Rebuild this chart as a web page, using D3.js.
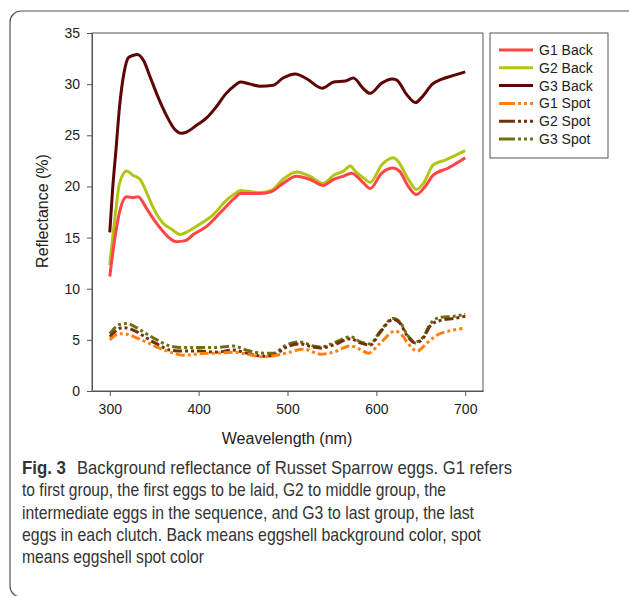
<!DOCTYPE html>
<html>
<head>
<meta charset="utf-8">
<style>
  body { margin: 0; background: #fff; }
  svg { display: block; }
  .axis path, .axis line { stroke: #555; }
  .axis text { font-family: "Liberation Sans", Arial, sans-serif; font-size: 14px; fill: #222; }
  .caption { font-family: "Liberation Sans Narrow", "Liberation Sans", Arial, sans-serif; font-size: 19px; fill: #333; }
</style>
</head>
<body>
<script src="https://d3js.org/d3.v7.min.js"></script>
<script>
// wavelengths (nm) and reflectance (%)
var g1BackWl = [300, 306, 311, 319, 326, 332, 341, 350, 360, 368, 375, 385, 394, 409, 424, 441, 447, 458, 469, 482, 495, 510, 525, 540, 552, 563, 572, 586, 593, 606, 619, 626, 636, 645, 655, 664, 681, 700];
var g1BackVal = [11.2, 15.1, 17.5, 19.0, 18.9, 19.0, 17.9, 16.7, 15.6, 14.9, 14.6, 14.7, 15.3, 16.1, 17.4, 18.9, 19.3, 19.3, 19.3, 19.5, 20.3, 21.0, 20.7, 20.1, 20.7, 21.0, 21.3, 20.3, 19.8, 21.3, 21.8, 21.5, 20.0, 19.2, 20.0, 21.1, 21.8, 22.8];

var g2BackWl = [300, 306, 311, 319, 326, 334, 341, 349, 360, 370, 379, 388, 401, 416, 432, 441, 447, 458, 469, 482, 495, 510, 525, 540, 552, 563, 571, 576, 586, 593, 606, 619, 624, 636, 645, 653, 664, 678, 700];
var g2BackVal = [12.3, 17.1, 20.3, 21.5, 21.1, 20.7, 19.5, 17.9, 16.4, 15.8, 15.3, 15.6, 16.3, 17.2, 18.7, 19.3, 19.6, 19.5, 19.4, 19.6, 20.7, 21.4, 21.0, 20.3, 21.1, 21.5, 22.0, 21.5, 20.8, 20.4, 22.1, 22.8, 22.5, 20.7, 19.7, 20.3, 22.1, 22.6, 23.5];

var g3BackWl = [300, 303, 307, 311, 316, 321, 326, 331, 338, 345, 354, 364, 373, 381, 386, 398, 409, 420, 430, 441, 447, 458, 469, 484, 495, 509, 522, 539, 552, 565, 574, 586, 593, 606, 618, 623, 634, 644, 651, 663, 674, 689, 700];
var g3BackVal = [15.5, 19.5, 23.6, 27.8, 31.1, 32.6, 32.8, 32.9, 32.3, 30.8, 28.8, 26.9, 25.6, 25.2, 25.3, 26.0, 26.7, 27.8, 29.0, 29.9, 30.2, 30.0, 29.8, 29.9, 30.6, 31.0, 30.5, 29.6, 30.2, 30.3, 30.6, 29.5, 29.1, 30.1, 30.5, 30.4, 29.0, 28.2, 28.7, 30.0, 30.5, 30.9, 31.2];

var g1SpotWl = [300, 311, 319, 330, 341, 353, 368, 383, 401, 420, 439, 454, 473, 488, 503, 518, 537, 552, 571, 582, 591, 604, 621, 629, 636, 646, 657, 668, 683, 697];
var g1SpotVal = [5.0, 5.6, 5.55, 5.2, 4.8, 4.3, 3.8, 3.5, 3.65, 3.7, 3.8, 3.6, 3.35, 3.5, 3.8, 4.1, 3.6, 3.8, 4.4, 4.05, 3.7, 4.65, 5.85, 5.45, 4.6, 3.9, 4.7, 5.45, 5.9, 6.1];

var g2SpotWl = [300, 315, 330, 341, 353, 368, 383, 401, 420, 439, 454, 473, 484, 499, 514, 529, 537, 552, 571, 582, 593, 604, 619, 627, 634, 644, 653, 661, 672, 687, 700];
var g2SpotVal = [5.3, 6.2, 5.8, 5.2, 4.6, 4.0, 3.9, 3.9, 3.8, 4.0, 3.7, 3.4, 3.5, 4.3, 4.6, 4.3, 4.2, 4.5, 5.1, 4.7, 4.5, 5.7, 7.0, 6.6, 5.5, 4.7, 5.2, 6.4, 6.9, 7.1, 7.3];

var g3SpotWl = [300, 311, 319, 330, 341, 353, 368, 383, 401, 420, 439, 454, 473, 484, 499, 514, 529, 537, 552, 571, 582, 593, 604, 619, 627, 634, 644, 653, 661, 672, 687, 700];
var g3SpotVal = [5.6, 6.5, 6.6, 6.2, 5.6, 5.0, 4.4, 4.25, 4.25, 4.25, 4.4, 4.0, 3.7, 3.7, 4.5, 4.8, 4.4, 4.3, 4.7, 5.3, 4.8, 4.6, 5.8, 7.1, 6.7, 5.6, 4.8, 5.3, 6.6, 7.2, 7.3, 7.5];

var seriesNames = ["G1 Back", "G2 Back", "G3 Back", "G1 Spot", "G2 Spot", "G3 Spot"];
var xTicks = [300, 400, 500, 600, 700];
var yTicks = [0, 5, 10, 15, 20, 25, 30, 35];

var captionLabel = "Fig. 3";
var captionLines = [
  "Background reflectance of Russet Sparrow eggs. G1 refers",
  "to first group, the first eggs to be laid, G2 to middle group, the",
  "intermediate eggs in the sequence, and G3 to last group, the last",
  "eggs in each clutch. Back means eggshell background color, spot",
  "means eggshell spot color"
];

var series = [
  {name: seriesNames[0], wl: g1BackWl, val: g1BackVal, color: "#ff4545", dash: null},
  {name: seriesNames[1], wl: g2BackWl, val: g2BackVal, color: "#b4c412", dash: null},
  {name: seriesNames[2], wl: g3BackWl, val: g3BackVal, color: "#5e0606", dash: null},
  {name: seriesNames[3], wl: g1SpotWl, val: g1SpotVal, color: "#ff8010", dash: "9,3,3,3,3,3"},
  {name: seriesNames[4], wl: g2SpotWl, val: g2SpotVal, color: "#74300a", dash: "9,3,3,3,3,3"},
  {name: seriesNames[5], wl: g3SpotWl, val: g3SpotVal, color: "#6e7010", dash: "9,3,3,3,3,3"}
];

var plot = {left: 92, right: 483, top: 33, bottom: 391};

var svg = d3.select("body").append("svg")
    .attr("width", 629)
    .attr("height", 596);

// outer figure frame
svg.append("rect")
    .attr("x", 10).attr("y", 11)
    .attr("width", 630).attr("height", 586)
    .attr("rx", 11)
    .attr("fill", "none")
    .attr("stroke", "#555")
    .attr("stroke-width", 1.2);

var x = d3.scaleLinear().domain([280, 720]).range([plot.left, plot.right]);
var y = d3.scaleLinear().domain([0, 35]).range([plot.bottom, plot.top]);

// plot box
svg.append("rect")
    .attr("x", plot.left).attr("y", plot.top)
    .attr("width", plot.right - plot.left)
    .attr("height", plot.bottom - plot.top)
    .attr("fill", "none")
    .attr("stroke", "#555");

svg.append("g")
    .attr("class", "axis")
    .attr("transform", "translate(0," + plot.bottom + ")")
    .call(d3.axisBottom(x).tickValues(xTicks).tickSize(5).tickPadding(8).tickSizeOuter(0));

svg.append("g")
    .attr("class", "axis")
    .attr("transform", "translate(" + plot.left + ",0)")
    .call(d3.axisLeft(y).tickValues(yTicks).tickSize(5).tickPadding(7).tickSizeOuter(0));

var line = d3.line()
    .x(function(d) { return x(d[0]); })
    .y(function(d) { return y(d[1]); })
    .curve(d3.curveMonotoneX);

// spots first, backs on top
series.slice().reverse().forEach(function(s) {
  svg.append("path")
      .datum(d3.zip(s.wl, s.val))
      .attr("d", line)
      .attr("fill", "none")
      .attr("stroke", s.color)
      .attr("stroke-width", 3)
      .attr("stroke-dasharray", s.dash);
});

// axis titles
svg.append("text")
    .attr("x", 287).attr("y", 444)
    .attr("text-anchor", "middle")
    .attr("font-family", "Liberation Sans, Arial, sans-serif")
    .attr("font-size", 16)
    .attr("fill", "#222")
    .text("Weavelength (nm)");

svg.append("text")
    .attr("transform", "translate(48,211)rotate(-90)")
    .attr("text-anchor", "middle")
    .attr("font-family", "Liberation Sans, Arial, sans-serif")
    .attr("font-size", 16)
    .attr("fill", "#222")
    .text("Reflectance (%)");

// legend
var legend = svg.append("g");
legend.append("rect")
    .attr("x", 490).attr("y", 33)
    .attr("width", 118).attr("height", 125)
    .attr("fill", "#fff")
    .attr("stroke", "#555");

series.forEach(function(s, i) {
  var ly = 50 + i * 17.8;
  legend.append("line")
      .attr("x1", 499).attr("x2", 533)
      .attr("y1", ly).attr("y2", ly)
      .attr("stroke", s.color)
      .attr("stroke-width", 3)
      .attr("stroke-dasharray", s.dash ? "16,3,3,3,3,3" : null);
  legend.append("text")
      .attr("x", 539).attr("y", ly + 5)
      .attr("font-family", "Liberation Sans, Arial, sans-serif")
      .attr("font-size", 14)
      .attr("fill", "#222")
      .text(s.name);
});

// caption
svg.append("text")
    .attr("class", "caption")
    .attr("x", 22).attr("y", 474)
    .attr("font-weight", "bold")
    .attr("fill", "#222")
    .attr("textLength", 44)
    .attr("lengthAdjust", "spacingAndGlyphs")
    .text(captionLabel);

var capX = [77, 22, 22, 22, 22];
var capWidths = [435, 424, 452, 459, 182];
captionLines.forEach(function(t, i) {
  svg.append("text")
      .attr("class", "caption")
      .attr("x", capX[i]).attr("y", 474 + i * 22.3)
      .attr("textLength", capWidths[i])
      .attr("lengthAdjust", "spacingAndGlyphs")
      .text(t);
});
</script>
</body>
</html>
